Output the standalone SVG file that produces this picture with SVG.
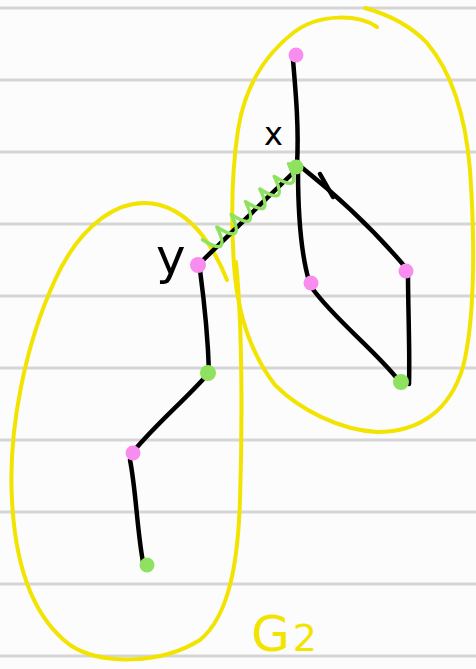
<svg xmlns="http://www.w3.org/2000/svg" width="476" height="669" viewBox="0 0 476 669">
<style>
.rule{stroke:#d5d5d5;stroke-width:3}
.edge{fill:none;stroke:#000;stroke-width:4.5;stroke-linecap:round;stroke-linejoin:round}
.loop{fill:none;stroke:#f2e400;stroke-width:4;stroke-linecap:round;stroke-linejoin:round}
.pink{fill:#f98cef}
.green{fill:#8ee25f}
.lbl{font-family:"DejaVu Sans",sans-serif;fill:#000}
</style>
<rect width="476" height="669" fill="#fcfcfc"/>
<g id="paper">
<line class="rule" x1="0" y1="8" x2="476" y2="8"/>
<line class="rule" x1="0" y1="80" x2="476" y2="80"/>
<line class="rule" x1="0" y1="152" x2="476" y2="152"/>
<line class="rule" x1="0" y1="224" x2="476" y2="224"/>
<line class="rule" x1="0" y1="296" x2="476" y2="296"/>
<line class="rule" x1="0" y1="368" x2="476" y2="368"/>
<line class="rule" x1="0" y1="440" x2="476" y2="440"/>
<line class="rule" x1="0" y1="512" x2="476" y2="512"/>
<line class="rule" x1="0" y1="584" x2="476" y2="584"/>
<line class="rule" x1="0" y1="656" x2="476" y2="656"/>
</g>
<g id="clusters">
<path class="loop" d="M377,27 C360,15 320,12 293,33 C265,55 245,85 238,130 C232,170 231,220 234,265 C237,310 248,350 275,385 C300,410 340,430 377,432 C420,432 450,410 463,367 C475,320 475,240 470,170 C465,110 450,70 427,43 C410,25 390,15 365,8"/>
<path class="loop" d="M227,280 C215,250 195,215 160,205 C120,195 80,225 55,280 C25,345 8,430 12,500 C15,560 30,615 70,645 C100,665 160,665 200,640 C230,615 238,560 240,500 C242,440 243,330 236,262"/>
<text x="251" y="651" font-family="'DejaVu Sans',sans-serif" font-size="50" fill="#f2e400">G<tspan dx="3" font-size="38">2</tspan></text>
</g>
<g id="connectors">
<path class="edge" d="M293,60 C296,95 299,130 297,165"/>
<path class="edge" d="M198,265 L296,170"/>
<path class="edge" d="M200,270 C204,300 208,340 209,372"/>
<path class="edge" d="M207,375 C185,400 155,425 133,452"/>
<path class="edge" d="M130,460 C136,490 137,530 143,562"/>
<path class="edge" d="M298,170 C298,200 300,250 309,281"/>
<path class="edge" d="M300,166 C330,190 370,225 406,268"/>
<path class="edge" d="M320,174 L333,197"/>
<path class="edge" d="M312,288 C335,320 375,350 400,382"/>
<path class="edge" d="M408,274 C408,310 410,350 409,384"/>
<path d="M202.6,239.7 Q231.9,258.3 216.9,227 Q246.2,245.6 231.3,214.4 Q260.5,232.9 245.6,201.7 Q274.9,220.3 259.9,189 Q289.2,207.6 274.3,176.4 Q303.5,194.9 288.6,163.7" fill="none" stroke="#8ee25f" stroke-width="3.5" stroke-linecap="round" stroke-linejoin="round"/>
</g>
<g id="node-top"><circle class="pink" cx="296" cy="55" r="7.5"/></g>
<g id="node-x"><circle class="green" cx="296" cy="167" r="7.5"/><text class="lbl" x="264" y="145" font-size="32">x</text></g>
<g id="node-y"><circle class="pink" cx="198" cy="265" r="8"/><text class="lbl" x="156" y="274" font-size="50">y</text></g>
<g id="node-y-green"><circle class="green" cx="208" cy="373" r="8"/></g>
<g id="node-left-pink"><circle class="pink" cx="133" cy="453" r="7.5"/></g>
<g id="node-left-green"><circle class="green" cx="147" cy="565" r="7.5"/></g>
<g id="node-mid-pink"><circle class="pink" cx="311" cy="283" r="7.5"/></g>
<g id="node-right-pink"><circle class="pink" cx="406" cy="271" r="7.5"/></g>
<g id="node-right-green"><circle class="green" cx="401" cy="382" r="8"/></g>
</svg>
